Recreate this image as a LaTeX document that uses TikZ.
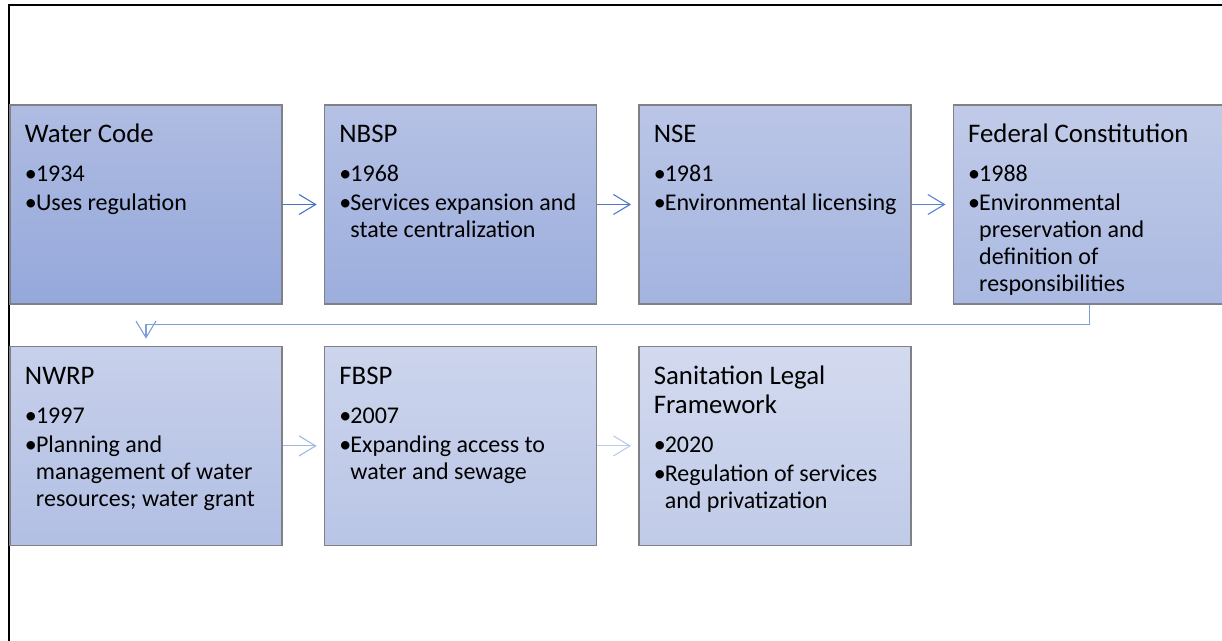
\documentclass[tikz,border=0pt]{standalone}
\usepackage{fontspec}
\setmainfont{Carlito}
\usetikzlibrary{positioning,arrows.meta}

% box shading runs from the first stage to the last
\definecolor{firsttop}{RGB}{175,188,226}
\definecolor{firstbottom}{RGB}{149,168,219}
\definecolor{lasttop}{RGB}{211,218,239}
\definecolor{lastbottom}{RGB}{192,203,232}
\definecolor{stageline}{RGB}{128,128,134}
\definecolor{flowdark}{RGB}{68,114,196}
\definecolor{flowlight}{RGB}{200,212,242}

\newcommand{\stagetitle}[1]{{\fontsize{13.4}{14.5}\selectfont\rule{0pt}{19pt}#1\par}\vspace{5pt}}
\newcommand{\stageitem}[1]{\hangindent=5.5pt\hangafter=1\noindent\makebox[5.5pt][l]{•}#1\par}

\begin{document}
\begin{tikzpicture}[x=0.5pt,y=-0.5pt,
  stage/.style={draw=stageline,line width=0.7pt,inner sep=0pt,node distance=20.5pt,
    top color=lasttop!#1!firsttop,bottom color=lastbottom!#1!firstbottom,
    execute at begin node={\begin{minipage}[t][99.5pt][t]{136pt}%
      \fontsize{12}{13.5}\selectfont\leftskip=7.5pt\rightskip=0pt plus 1fil%
      \parindent=0pt\parskip=1pt},
    execute at end node={\end{minipage}}},
  flow/.style={draw=flowlight!#1!flowdark,line width=0.55pt,shorten >=3.5pt,
    -{Straight Barb[length=8.3pt,width=10pt]}}]
\useasboundingbox (0,0) rectangle (1222,641);
\draw[line width=1.4pt] (9,641) -- (9,5) -- (1222,5); % frame

% first row
\node[stage=0] (code) at (146,204.5) {\stagetitle{Water Code}\stageitem{1934}\stageitem{Uses regulation}};
\node[stage=17,right=of code] (nbsp) {\stagetitle{NBSP}\stageitem{1968}\stageitem{Services expansion and\\state centralization}};
\node[stage=33,right=of nbsp] (nse) {\stagetitle{NSE}\stageitem{1981}\stageitem{Environmental licensing}};
\node[stage=50,right=of nse] (fed) {\stagetitle{Federal Constitution}\stageitem{1988}\stageitem{Environmental\\preservation and\\definition of\\responsibilities}};

% second row
\node[stage=67,below=of code] (nwrp) {\stagetitle{NWRP}\stageitem{1997}\stageitem{Planning and\\management of water\\resources; water grant}};
\node[stage=83,right=of nwrp] (fbsp) {\stagetitle{FBSP}\stageitem{2007}\stageitem{Expanding access to\\water and sewage}};
\node[stage=100,right=of fbsp] (slf) {\stagetitle{Sanitation Legal\\Framework}\stageitem{2020}\stageitem{Regulation of services\\and privatization}};

\draw[flow=0] (code) -- (nbsp);
\draw[flow=8] (nbsp) -- (nse);
\draw[flow=16] (nse) -- (fed);
\draw[flow=45] (fed.south) -- ++(0,20) -| (nwrp.north);
\draw[flow=70] (nwrp) -- (fbsp);
\draw[flow=90] (fbsp) -- (slf);

\end{tikzpicture}
\end{document}
